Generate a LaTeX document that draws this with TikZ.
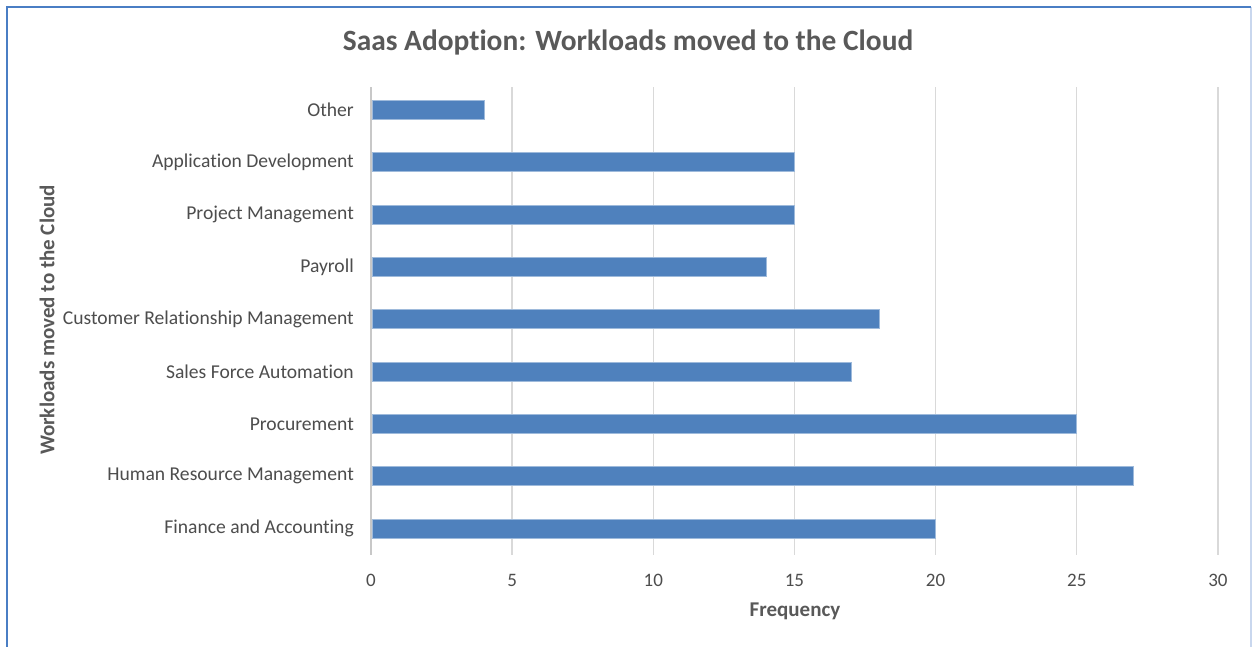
\documentclass[tikz,border=0pt]{standalone}
\usepackage{fontspec}
\setmainfont{Carlito}[Ligatures={NoCommon,NoRequired,NoContextual},RawFeature={-calt;-dlig}]
\definecolor{barblue}{HTML}{4F81BD}
\definecolor{txtgray}{HTML}{595959}
\definecolor{labgray}{HTML}{4D4D4D}
\definecolor{gridgray}{HTML}{D9D9D9}
\definecolor{axisgray}{HTML}{C8C8C8}
\definecolor{frameblue}{HTML}{4A7EC4}
\definecolor{frameside}{HTML}{C9D7EE}
\begin{document}
\begin{tikzpicture}[x=1pt,y=-1pt,
  catlabel/.style={anchor=east, text=labgray, inner sep=0pt,
    font=\fontsize{19.6}{22}\selectfont},
  ticklabel/.style={text=labgray, inner sep=0pt,
    font=\fontsize{19}{22}\selectfont},
  axistitle/.style={text=txtgray, inner sep=0pt,
    font=\bfseries\fontsize{21}{24}\selectfont},
  charttitle/.style={text=txtgray, inner sep=0pt,
    font=\bfseries\fontsize{29.4}{34}\selectfont},
  barfill/.style={fill=barblue, draw=barblue!55!white, line width=0.8pt},
  gridline/.style={draw=gridgray, line width=1.4pt},
  axisline/.style={draw=axisgray, line width=1.4pt}]

\useasboundingbox (0,0) rectangle (1252,646);
\fill[white] (0,0) rectangle (1252,646);

% chart frame
\draw[frameside, line width=1.5pt] (1251,7) -- (1251,660);
\draw[frameblue, line width=2pt] (7,660) -- (7,7) -- (1251,7);

% title
\node[charttitle] (title) at (628,42) {Saas Adoption: Workloads moved to the Cloud};

% vertical gridlines and value-axis labels (28.23 units per step of 1)
\foreach \v in {5,10,...,30}
  \draw[gridline] ({371+28.23*\v},87) -- ({371+28.23*\v},555);
\draw[axisline] (371,87) -- (371,555);
\foreach \v in {0,5,...,30}
  \node[ticklabel] (tick\v) at ({371+28.23*\v},580) {\v};

% bars with category labels
\foreach \n/\lab/\v/\yy in {
    oth/Other/4/110,
    dev/Application Development/15/162.3,
    pm/Project Management/15/214.6,
    pay/Payroll/14/266.9,
    crm/Customer Relationship Management/18/319.2,
    sfa/Sales Force Automation/17/371.5,
    proc/Procurement/25/423.8,
    hrm/Human Resource Management/27/476.1,
    fin/Finance and Accounting/20/528.4}{
  \node[catlabel] (lab-\n) at (354,\yy) {\lab};
  \path[barfill] (372,{\yy-9.5}) rectangle ({371+28.23*\v},{\yy+9.5});
}

% axis titles
\node[axistitle] (xtitle) at (795,611) {Frequency};
\node[axistitle, rotate=90] (ytitle) at (47,320) {Workloads moved to the Cloud};
\end{tikzpicture}
\end{document}
